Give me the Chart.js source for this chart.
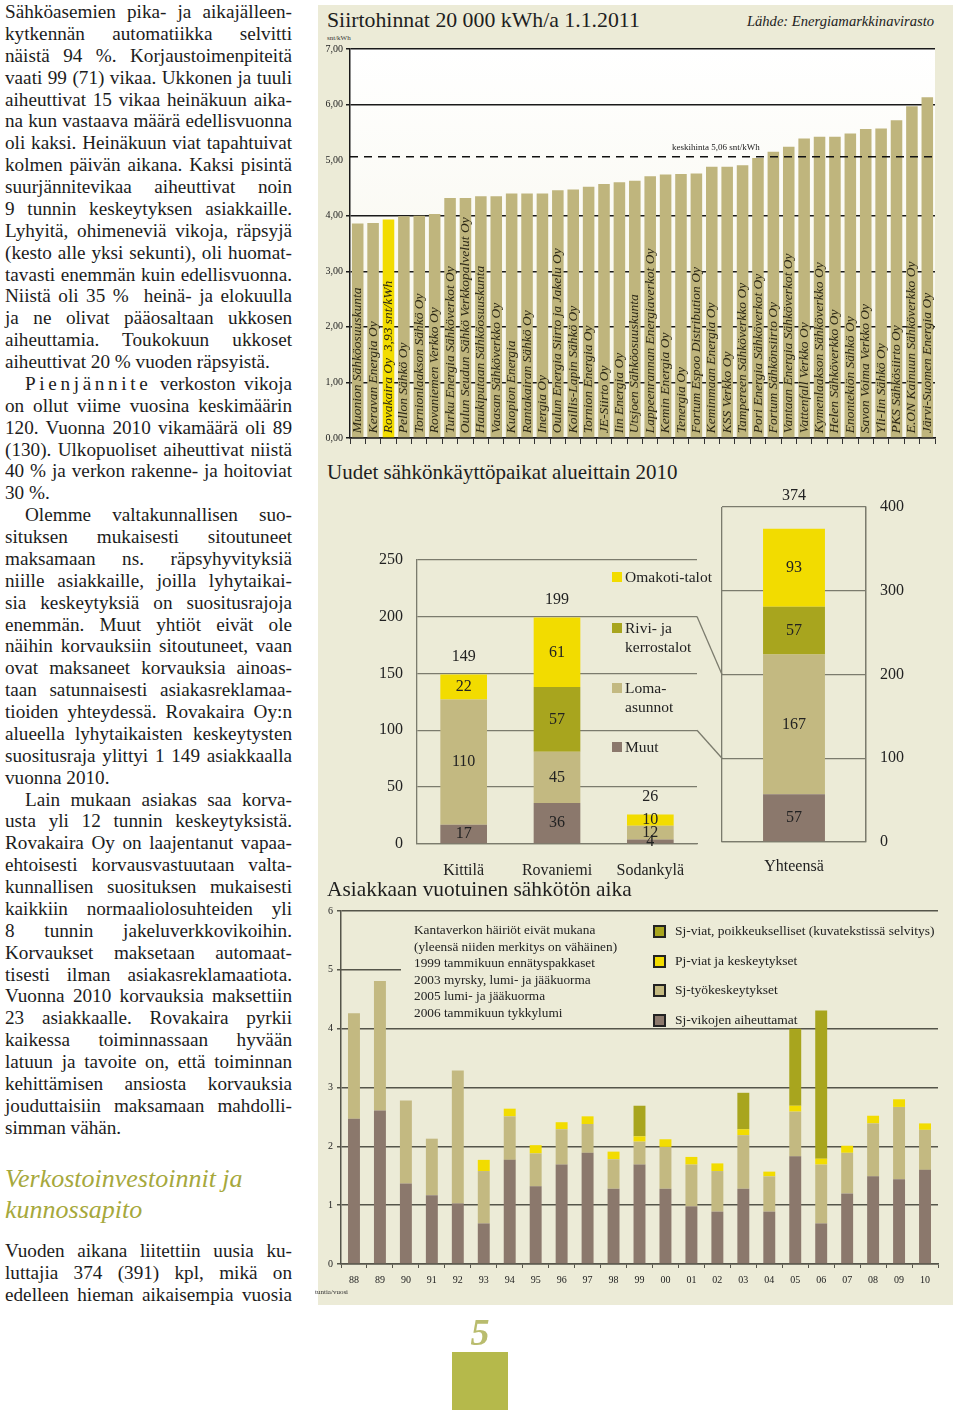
<!DOCTYPE html>
<html lang="fi">
<head>
<meta charset="utf-8">
<title>Siirtohinnat, uudet käyttöpaikat ja sähkötön aika</title>
<script src="https://cdn.jsdelivr.net/npm/chart.js@4.4.1/dist/chart.umd.min.js"></script>
<style>
  body { margin:0; width:960px; height:1410px; background:#fff; position:relative; overflow:hidden;
         font-family:"Liberation Serif", "Times New Roman", serif; color:#1c1c1c; }
  .col { position:absolute; left:5px; width:287px; font-size:19.2px; line-height:21.87px; }
  .col div { text-align:justify; text-align-last:justify; }
  .col div.e { text-align-last:left; }
  .col div.i { text-indent:20px; }
  .sp { letter-spacing:0.19em; }
  .head { position:absolute; left:5px; top:1163px; font-style:italic; font-size:26px; line-height:31px; color:#a6a83c; }
  #panel { position:absolute; left:318px; top:5px; width:635px; height:1300px; background:#ecebd7; }
  .box { position:absolute; }
  .title { position:absolute; left:327px; font-size:21px; line-height:24px; color:#1e1e1e; white-space:nowrap; }
  .small { position:absolute; font-size:7px; color:#333; white-space:nowrap; }
  .lg2 { position:absolute; left:612px; font-size:15.5px; line-height:19px; color:#222; white-space:nowrap; }
  .lg2 i { position:absolute; left:0; top:5px; width:10px; height:10px; }
  .lg2 span { display:block; padding-left:13px; }
  .note { position:absolute; left:414px; top:922px; font-size:13.3px; line-height:16.6px; color:#222; white-space:nowrap; }
  .lg3 { position:absolute; left:653px; font-size:13.5px; line-height:16px; color:#222; white-space:nowrap; }
  .lg3 i { position:absolute; left:0; top:2px; width:9px; height:9px; border:2px solid #222; }
  .lg3 span { padding-left:22px; }
</style>
</head>
<body>

<div class="col" style="top:1px">
  <div>Sähköasemien pika- ja aikajälleen-</div>
  <div>kytkennän automatiikka selvitti</div>
  <div>näistä 94 %. Korjaustoimenpiteitä</div>
  <div>vaati 99 (71) vikaa. Ukkonen ja tuuli</div>
  <div>aiheuttivat 15 vikaa heinäkuun aika-</div>
  <div>na kun vastaava määrä edellisvuonna</div>
  <div>oli kaksi. Heinäkuun viat tapahtuivat</div>
  <div>kolmen päivän aikana. Kaksi pisintä</div>
  <div>suurjännitevikaa aiheuttivat noin</div>
  <div>9 tunnin keskeytyksen asiakkaille.</div>
  <div>Lyhyitä, ohimeneviä vikoja, räpsyjä</div>
  <div>(kesto alle yksi sekunti), oli huomat-</div>
  <div>tavasti enemmän kuin edellisvuonna.</div>
  <div>Niistä oli 35 %&nbsp; heinä- ja elokuulla</div>
  <div>ja ne olivat pääosaltaan ukkosen</div>
  <div>aiheuttamia. Toukokuun ukkoset</div>
  <div class="e">aiheuttivat 20 % vuoden räpsyistä.</div>
  <div class="i"><span class="sp">Pienjännite</span> verkoston vikoja</div>
  <div>on ollut viime vuosina keskimäärin</div>
  <div>120. Vuonna 2010 vikamäärä oli 89</div>
  <div>(130). Ulkopuoliset aiheuttivat niistä</div>
  <div>40 % ja verkon rakenne- ja hoitoviat</div>
  <div class="e">30 %.</div>
  <div class="i">Olemme valtakunnallisen suo-</div>
  <div>situksen mukaisesti sitoutuneet</div>
  <div>maksamaan ns. räpsyhyvityksiä</div>
  <div>niille asiakkaille, joilla lyhytaikai-</div>
  <div>sia keskeytyksiä on suositusrajoja</div>
  <div>enemmän. Muut yhtiöt eivät ole</div>
  <div>näihin korvauksiin sitoutuneet, vaan</div>
  <div>ovat maksaneet korvauksia ainoas-</div>
  <div>taan satunnaisesti asiakasreklamaa-</div>
  <div>tioiden yhteydessä. Rovakaira Oy:n</div>
  <div>alueella lyhytaikaisten keskeytysten</div>
  <div>suositusraja ylittyi 1 149 asiakkaalla</div>
  <div class="e">vuonna 2010.</div>
  <div class="i">Lain mukaan asiakas saa korva-</div>
  <div>usta yli 12 tunnin keskeytyksistä.</div>
  <div>Rovakaira Oy on laajentanut vapaa-</div>
  <div>ehtoisesti korvausvastuutaan valta-</div>
  <div>kunnallisen suosituksen mukaisesti</div>
  <div>kaikkiin normaaliolosuhteiden yli</div>
  <div>8 tunnin jakeluverkkovikoihin.</div>
  <div>Korvaukset maksetaan automaat-</div>
  <div>tisesti ilman asiakasreklamaatiota.</div>
  <div>Vuonna 2010 korvauksia maksettiin</div>
  <div>23 asiakkaalle. Rovakaira pyrkii</div>
  <div>kaikessa toiminnassaan hyvään</div>
  <div>latuun ja tavoite on, että toiminnan</div>
  <div>kehittämisen ansiosta korvauksia</div>
  <div>jouduttaisiin maksamaan mahdolli-</div>
  <div class="e">simman vähän.</div>
</div>

<div class="head">Verkostoinvestoinnit ja<br>kunnossapito</div>

<div class="col" style="top:1240px">
  <div>Vuoden aikana liitettiin uusia ku-</div>
  <div>luttajia 374 (391) kpl, mikä on</div>
  <div>edelleen hieman aikaisempia vuosia</div>
</div>

<div id="panel"></div>

<div class="title" style="top:8px; font-size:21.8px">Siirtohinnat 20 000 kWh/a 1.1.2011</div>
<div style="position:absolute; right:26px; top:13px; font-size:14.6px; font-style:italic; color:#222;">Lähde: Energiamarkkinavirasto</div>
<div class="small" style="left:327px; top:34px">snt/kWh</div>
<div class="box" style="left:318px; top:40px; width:635px; height:412px"><canvas id="prices"></canvas></div>

<div class="title" style="top:460px">Uudet sähkönkäyttöpaikat alueittain 2010</div>
<div class="box" id="box2a" style="left:357px; top:536px; width:345px; height:348px"><canvas id="newSites"></canvas></div>
<div class="box" id="box2b" style="left:700px; top:480px; width:230px; height:395px"><canvas id="newTotal"></canvas></div>
<div class="lg2" style="top:567px"><i style="background:#f2dc00"></i><span>Omakoti-talot</span></div>
<div class="lg2" style="top:618px"><i style="background:#a8a51e"></i><span>Rivi- ja<br>kerrostalot</span></div>
<div class="lg2" style="top:678px"><i style="background:#c3b981"></i><span>Loma-<br>asunnot</span></div>
<div class="lg2" style="top:737px"><i style="background:#8b786c"></i><span>Muut</span></div>

<div class="title" style="top:877px; font-size:21.4px">Asiakkaan vuotuinen sähkötön aika</div>
<div class="box" style="left:300px; top:900px; width:653px; height:392px"><canvas id="outage"></canvas></div>
<div class="small" style="left:315px; top:1288px">tuntia/vuosi</div>
<div class="note">Kantaverkon häiriöt eivät mukana<br>(yleensä niiden merkitys on vähäinen)<br>1999 tammikuun ennätyspakkaset<br>2003 myrsky, lumi- ja jääkuorma<br>2005 lumi- ja jääkuorma<br>2006 tammikuun tykkylumi</div>
<div class="lg3" style="top:923px"><i style="background:#a8a51e"></i><span>Sj-viat, poikkeukselliset (kuvatekstissä selvitys)</span></div>
<div class="lg3" style="top:953px"><i style="background:#f2dc00"></i><span>Pj-viat ja keskeytykset</span></div>
<div class="lg3" style="top:982px"><i style="background:#c3b981"></i><span>Sj-työkeskeytykset</span></div>
<div class="lg3" style="top:1012px"><i style="background:#8b786c"></i><span>Sj-vikojen aiheuttamat</span></div>

<canvas id="links" width="960" height="1410" style="position:absolute; left:0; top:0; pointer-events:none"></canvas>

<div style="position:absolute; left:0; width:960px; text-align:center; top:1310px; font-size:38px; font-style:italic; font-weight:bold; color:#b9bc6e;">5</div>
<div style="position:absolute; left:452px; top:1352px; width:56px; height:58px; background:#b5b94b;"></div>

<script>
// --- Siirtohinnat 20 000 kWh/a 1.1.2011 (snt/kWh)
const companies = [
  'Muonion Sähköosuuskunta', 'Keravan Energia Oy', 'Rovakaira Oy  3,93 snt/kWh', 'Pellon Sähkö Oy',
  'Tornionlaakson Sähkö Oy', 'Rovaniemen Verkko Oy', 'Turku Energia Sähköverkot Oy',
  'Oulun Seudun Sähkö Verkkopalvelut Oy', 'Haukiputaan Sähköosuuskunta', 'Vaasan Sähköverkko Oy',
  'Kuopion Energia', 'Rantakairan Sähkö Oy', 'Inergia Oy', 'Oulun Energia Siirto ja Jakelu Oy',
  'Koillis-Lapin Sähkö Oy', 'Tornion Energia Oy', 'JE-Siirto Oy', 'Iin Energia Oy',
  'Utsjoen Sähköosuuskunta', 'Lappeenrannan Energiaverkot Oy', 'Kemin Energia Oy', 'Tenergia Oy',
  'Fortum Espoo Distribution Oy', 'Keminmaan Energia Oy', 'KSS Verkko Oy', 'Tampereen Sähköverkko Oy',
  'Pori Energia Sähköverkot Oy', 'Fortum Sähkönsiirto Oy', 'Vantaan Energia Sähköverkot Oy',
  'Vattenfall Verkko Oy', 'Kymenlaakson Sähköverkko Oy', 'Helen Sähköverkko Oy', 'Enontekiön Sähkö Oy',
  'Savon Voima Verkko Oy', 'Yli-Iin Sähkö Oy', 'PKS Sähkösiirto Oy', 'E.ON Kainuun Sähköverkko Oy',
  'Järvi-Suomen Energia Oy'
];
const prices = [3.86, 3.87, 3.93, 3.99, 4.00, 4.03, 4.32, 4.32, 4.35, 4.35, 4.40, 4.40, 4.40,
  4.46, 4.47, 4.52, 4.57, 4.60, 4.63, 4.71, 4.74, 4.75, 4.76, 4.88, 4.88, 4.91, 5.04, 5.15,
  5.24, 5.39, 5.42, 5.42, 5.48, 5.56, 5.57, 5.72, 5.97, 6.13];
const ownCompany = 'Rovakaira Oy  3,93 snt/kWh';
const avgPrice = 5.06;
const avgLabel = 'keskihinta 5,06 snt/kWh';

// --- Uudet sähkönkäyttöpaikat alueittain 2010
const areas = ['Kittilä', 'Rovaniemi', 'Sodankylä'];
const muut = [17, 36, 4];
const loma = [110, 45, 12];
const rivi = [0, 57, 0];
const omakoti = [22, 61, 10];
const totalLabel = ['Yhteensä'];
const totalMuut = [57], totalLoma = [167], totalRivi = [57], totalOmakoti = [93];

// --- Asiakkaan vuotuinen sähkötön aika (tuntia/vuosi)
const years = ['88','89','90','91','92','93','94','95','96','97','98','99','00','01','02','03','04','05','06','07','08','09','10'];
const sjFaults = [2.47, 2.61, 1.37, 1.17, 1.03, 0.69, 1.77, 1.32, 1.69, 1.89, 1.28, 1.69, 1.28, 0.98, 0.89, 1.28, 0.89, 1.83, 0.69, 1.20, 1.49, 1.44, 1.60];
const sjWork   = [1.79, 2.20, 1.41, 0.96, 2.26, 0.89, 0.74, 0.56, 0.60, 0.49, 0.50, 0.39, 0.71, 0.71, 0.69, 0.91, 0.60, 0.76, 1.00, 0.69, 0.90, 1.23, 0.68];
const pjFaults = [0, 0, 0, 0, 0, 0.19, 0.13, 0.14, 0.12, 0.13, 0.13, 0.09, 0.13, 0.13, 0.13, 0.10, 0.08, 0.10, 0.10, 0.12, 0.13, 0.13, 0.11];
const sjExcept = [0, 0, 0, 0, 0, 0, 0, 0, 0, 0, 0, 0.52, 0, 0, 0, 0.62, 0, 1.31, 2.52, 0, 0, 0, 0];

const C = { khaki: '#bfb57d', yellow: '#f2dc00', olive: '#a8a51e', loma: '#c3b981', brown: '#8b786c', grid2: '#7b7b6d' };
const SERIF = '"Liberation Serif", "Times New Roman", serif';
Chart.defaults.font.family = SERIF;
Chart.defaults.animation = false;
Chart.defaults.maintainAspectRatio = false;
Chart.defaults.plugins.legend.display = false;
Chart.defaults.plugins.tooltip.enabled = false;

// ---------- chart 1 ----------
const priceDecor = {
  id: 'priceDecor',
  beforeDraw(chart) {
    const { ctx, chartArea: a } = chart;
    const g = ctx.createLinearGradient(0, a.top, 0, a.bottom);
    g.addColorStop(0, '#ffffff');
    g.addColorStop(1, '#f5f4e6');
    ctx.save();
    ctx.fillStyle = g;
    ctx.fillRect(a.left, a.top, a.right - a.left, a.bottom - a.top);
    ctx.restore();
  },
  afterDatasetsDraw(chart) {
    const { ctx, chartArea: a, scales: { y } } = chart;
    ctx.save();
    ctx.font = 'italic 13.5px ' + SERIF;
    ctx.fillStyle = '#2a2614';
    ctx.textBaseline = 'middle';
    chart.getDatasetMeta(0).data.forEach((bar, i) => {
      ctx.save();
      ctx.translate(bar.x, bar.base - 4);
      ctx.rotate(-Math.PI / 2);
      ctx.fillText(companies[i], 0, 0);
      ctx.restore();
    });
    const yy = y.getPixelForValue(avgPrice);
    ctx.strokeStyle = '#111';
    ctx.lineWidth = 1.5;
    ctx.setLineDash([8, 6]);
    ctx.beginPath();
    ctx.moveTo(a.left, yy);
    ctx.lineTo(a.right, yy);
    ctx.stroke();
    ctx.setLineDash([]);
    ctx.font = '9px ' + SERIF;
    ctx.fillStyle = '#222';
    ctx.textBaseline = 'bottom';
    ctx.fillText(avgLabel, a.left + 322, yy - 5);
    ctx.restore();
  }
};

new Chart(document.getElementById('prices'), {
  type: 'bar',
  data: {
    labels: companies,
    datasets: [{
      data: prices,
      backgroundColor: companies.map(c => c === ownCompany ? C.yellow : C.khaki),
      barPercentage: 0.75,
      categoryPercentage: 1
    }]
  },
  options: {
    layout: { padding: { top: 9, right: 18, left: 0, bottom: 0 } },
    scales: {
      x: {
        ticks: { display: false },
        grid: { drawOnChartArea: false, drawTicks: true, tickLength: 6, color: '#333' },
        border: { color: '#1a1a1a', width: 1.5 },
        afterFit: s => { s.height = 14; }
      },
      y: {
        min: 0, max: 7,
        ticks: { stepSize: 1, font: { size: 10 }, color: '#222', padding: 3,
                 callback: v => v.toFixed(2).replace('.', ',') },
        grid: { color: c => c.tick.value === 5 ? 'rgba(0,0,0,0)' : '#1a1a1a', lineWidth: 1.5, tickLength: 4 },
        border: { color: '#1a1a1a', width: 1.5 },
        afterFit: s => { s.width = 32; }
      }
    }
  },
  plugins: [priceDecor]
});

// ---------- chart 2 ----------
const stackLabels = {
  id: 'stackLabels',
  afterDatasetsDraw(chart, args, opts) {
    const { ctx } = chart;
    ctx.save();
    ctx.font = '16px ' + SERIF;
    ctx.fillStyle = '#222';
    ctx.textAlign = 'center';
    ctx.textBaseline = 'middle';
    chart.data.labels.forEach((lab, i) => {
      let total = 0, top = null, x = null;
      chart.data.datasets.forEach((ds, d) => {
        const el = chart.getDatasetMeta(d).data[i];
        const v = ds.data[i];
        x = el.x;
        if (!v) return;
        total += v;
        top = el.y;
        ctx.fillText(v, el.x, (el.y + el.base) / 2);
      });
      ctx.fillText(total, x, top - opts.gap);
    });
    ctx.restore();
  }
};

function stackSets(m, l, r, o, bw) {
  return [
    { label: 'Muut', data: m, backgroundColor: C.brown },
    { label: 'Loma-asunnot', data: l, backgroundColor: C.loma },
    { label: 'Rivi- ja kerrostalot', data: r, backgroundColor: C.olive },
    { label: 'Omakoti-talot', data: o, backgroundColor: C.yellow }
  ].map(d => Object.assign(d, { barPercentage: bw, categoryPercentage: 1 }));
}

const c2a = new Chart(document.getElementById('newSites'), {
  type: 'bar',
  data: { labels: areas, datasets: stackSets(muut, loma, rivi, omakoti, 0.5) },
  options: {
    layout: { padding: { top: 11, right: 5, left: 0, bottom: 0 } },
    plugins: { stackLabels: { gap: 18 } },
    scales: {
      x: {
        stacked: true,
        grid: { display: false },
        border: { display: true, color: C.grid2, width: 1.3 },
        ticks: { font: { size: 16 }, color: '#222', padding: 9 },
        afterFit: s => { s.height = 40; }
      },
      y: {
        stacked: true, min: 0, max: 250,
        ticks: { stepSize: 50, font: { size: 16 }, color: '#222', padding: 14 },
        grid: { color: C.grid2, lineWidth: 1.3, drawTicks: false },
        border: { display: true, color: C.grid2, width: 1.3 },
        afterFit: s => { s.width = 60; }
      }
    }
  },
  plugins: [stackLabels]
});

const c2b = new Chart(document.getElementById('newTotal'), {
  type: 'bar',
  data: { labels: totalLabel, datasets: stackSets(totalMuut, totalLoma, totalRivi, totalOmakoti, 0.43) },
  options: {
    layout: { padding: { top: 27, right: 0, left: 22, bottom: 0 } },
    plugins: { stackLabels: { gap: 33 } },
    scales: {
      x: {
        stacked: true,
        grid: { display: true, drawOnChartArea: true, drawTicks: false, color: C.grid2, lineWidth: 1.3 },
        border: { display: true, color: C.grid2, width: 1.3 },
        ticks: { font: { size: 16 }, color: '#222', padding: 15 },
        afterFit: s => { s.height = 33; }
      },
      y: {
        position: 'right', stacked: true, min: 0, max: 400,
        ticks: { stepSize: 100, font: { size: 16 }, color: '#222', padding: 14 },
        grid: { color: C.grid2, lineWidth: 1.3, drawTicks: false },
        border: { display: true, color: C.grid2, width: 1.3 },
        afterFit: s => { s.width = 64; }
      }
    }
  },
  plugins: [stackLabels]
});

// connector lines between the two halves of chart 2
(function () {
  const b1 = document.getElementById('box2a'), b2 = document.getElementById('box2b');
  const ox1 = b1.offsetLeft, oy1 = b1.offsetTop, ox2 = b2.offsetLeft, oy2 = b2.offsetTop;
  const ctx = document.getElementById('links').getContext('2d');
  ctx.strokeStyle = C.grid2;
  ctx.lineWidth = 1.3;
  [200, 100].forEach(v => {
    ctx.beginPath();
    ctx.moveTo(ox1 + c2a.chartArea.right, oy1 + c2a.scales.y.getPixelForValue(v));
    ctx.lineTo(ox2 + c2b.chartArea.left, oy2 + c2b.scales.y.getPixelForValue(v));
    ctx.stroke();
  });
})();

// ---------- chart 3 ----------
const shortFive = {
  id: 'shortFive',
  beforeDatasetsDraw(chart) {
    const { ctx, chartArea: a, scales: { y } } = chart;
    const yy = y.getPixelForValue(5);
    ctx.save();
    ctx.strokeStyle = '#55554a';
    ctx.lineWidth = 1.5;
    ctx.beginPath();
    ctx.moveTo(a.left - 4, yy);
    ctx.lineTo(a.left + 60, yy);
    ctx.stroke();
    ctx.restore();
  }
};

new Chart(document.getElementById('outage'), {
  type: 'bar',
  data: {
    labels: years,
    datasets: [
      { label: 'Sj-vikojen aiheuttamat', data: sjFaults, backgroundColor: C.brown },
      { label: 'Sj-työkeskeytykset', data: sjWork, backgroundColor: C.loma },
      { label: 'Pj-viat ja keskeytykset', data: pjFaults, backgroundColor: C.yellow },
      { label: 'Sj-viat, poikkeukselliset', data: sjExcept, backgroundColor: C.olive }
    ].map(d => Object.assign(d, { barPercentage: 0.46, categoryPercentage: 1 }))
  },
  options: {
    layout: { padding: { top: 11, right: 15, left: 0, bottom: 0 } },
    scales: {
      x: {
        stacked: true,
        grid: { drawOnChartArea: false, tickLength: 4, color: '#55554a' },
        border: { color: '#55554a', width: 1.5 },
        ticks: { font: { size: 10 }, color: '#222', padding: 6 },
        afterFit: s => { s.height = 28; }
      },
      y: {
        stacked: true, min: 0, max: 6,
        ticks: { stepSize: 1, font: { size: 10 }, color: '#222', padding: 4 },
        grid: { color: c => c.tick.value === 5 ? 'rgba(0,0,0,0)' : '#55554a', lineWidth: 1.5, tickLength: 4 },
        border: { color: '#55554a', width: 1.5 },
        afterFit: s => { s.width = 41; }
      }
    }
  },
  plugins: [shortFive]
});
</script>
</body>
</html>
